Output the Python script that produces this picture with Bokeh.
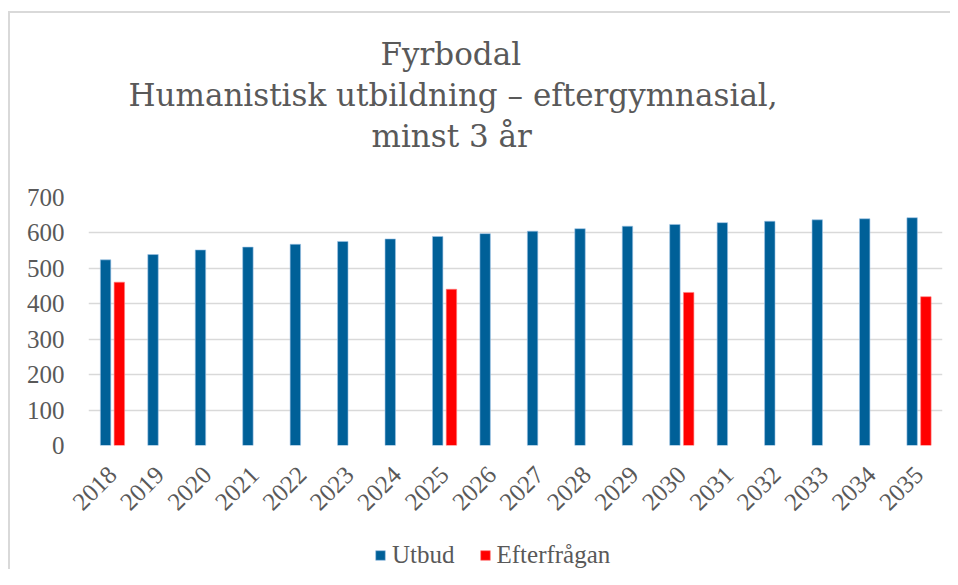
from math import pi
from bokeh.plotting import figure
from bokeh.layouts import column
from bokeh.models import (ColumnDataSource, FactorRange, FixedTicker, Title,
                          Legend, LegendItem)
from bokeh.transform import dodge
from bokeh.embed import file_html
from bokeh.resources import INLINE

years = [str(y) for y in range(2018, 2036)]
utbud = [524, 539, 552, 560, 568, 576, 583, 590, 598, 605, 612, 619, 624, 629, 633, 637, 640, 643]
efter_years = ["2018", "2025", "2030", "2035"]
efter_values = [461, 441, 432, 420]
y_ticks = [0, 100, 200, 300, 400, 500, 600, 700]
title_lines = ["Fyrbodal", "Humanistisk utbildning – eftergymnasial,", "minst 3 år"]
title_offsets = [292, 40, 283]
series_names = ["Utbud", "Efterfrågan"]

BLUE = "#006098"
RED = "#ff0000"
GREY = "#595959"
SERIF = "Liberation Serif"
TSERIF = "DejaVu Serif"

src_u = ColumnDataSource(dict(year=years, val=utbud))
src_e = ColumnDataSource(dict(year=efter_years, val=efter_values))

p = figure(frame_width=852, frame_height=246,
           x_range=FactorRange(factors=years), y_range=(0, 700),
           output_backend="svg", toolbar_location=None,
           min_border_left=78, min_border_right=10, min_border_top=184, min_border_bottom=92)
p.outline_line_color = None
p.styles = {"border-top": "2px solid #d9d9d9", "border-left": "2px solid #d9d9d9"}

p.vbar(x=dodge("year", -0.14, range=p.x_range), top="val", width=0.22, source=src_u,
       fill_color=BLUE, line_color="#9dc3e6", line_width=0.6)
p.vbar(x=dodge("year", 0.15, range=p.x_range), top="val", width=0.22, source=src_e,
       fill_color=RED, line_color="#ff8080", line_width=0.6)

p.xgrid.grid_line_color = None
p.ygrid.grid_line_color = "#d9d9d9"
p.ygrid.grid_line_width = 1.5
p.yaxis.ticker = FixedTicker(ticks=y_ticks)

for ax in (p.xaxis[0], p.yaxis[0]):
    ax.axis_line_color = None
    ax.major_tick_line_color = None
    ax.minor_tick_line_color = None
    ax.major_label_text_font = SERIF
    ax.major_label_text_font_size = "25px"
    ax.major_label_text_color = GREY
p.yaxis.major_label_standoff = 18
p.xaxis.major_label_orientation = pi / 4
p.xaxis.major_label_standoff = 19

# spacer between frame and title block
p.add_layout(Title(text=" ", text_font=TSERIF, text_font_size="31px", standoff=4), "above")
for line, off in reversed(list(zip(title_lines, title_offsets))):
    t = Title(text=line, align="left", text_font=TSERIF, text_font_size="31px",
              text_font_style="normal", text_color=GREY, offset=off, standoff=3)
    p.add_layout(t, "above")

# legend strip below the chart: same series, drawn out of view, only the legend shows
p2 = figure(frame_width=852, frame_height=34, x_range=p.x_range, y_range=(1000, 2000),
            output_backend="svg", toolbar_location=None,
            x_axis_location=None, y_axis_location=None,
            min_border_left=78, min_border_right=10, min_border_top=0, min_border_bottom=0)
p2.outline_line_color = None
p2.xgrid.grid_line_color = None
p2.ygrid.grid_line_color = None
p2.styles = {"border-left": "2px solid #d9d9d9"}
lr_u = p2.vbar(x="year", top="val", width=0.22, source=src_u,
               fill_color=BLUE, line_color="#9dc3e6", line_width=0.6)
lr_e = p2.vbar(x="year", top="val", width=0.22, source=src_e,
               fill_color=RED, line_color="#ff8080", line_width=0.6)

legend = Legend(items=[LegendItem(label=series_names[0], renderers=[lr_u]),
                       LegendItem(label=series_names[1], renderers=[lr_e])],
                orientation="horizontal", location=(286, 0),
                glyph_width=12, glyph_height=12, label_standoff=6, spacing=24,
                padding=0, margin=0, border_line_color=None, background_fill_alpha=0,
                label_text_font=SERIF, label_text_font_size="25px", label_text_color=GREY)
p2.add_layout(legend, "center")

layout = column(p, p2, spacing=0, margin=(11, 0, 0, 8))
open("out.html", "w").write(file_html(layout, INLINE))
